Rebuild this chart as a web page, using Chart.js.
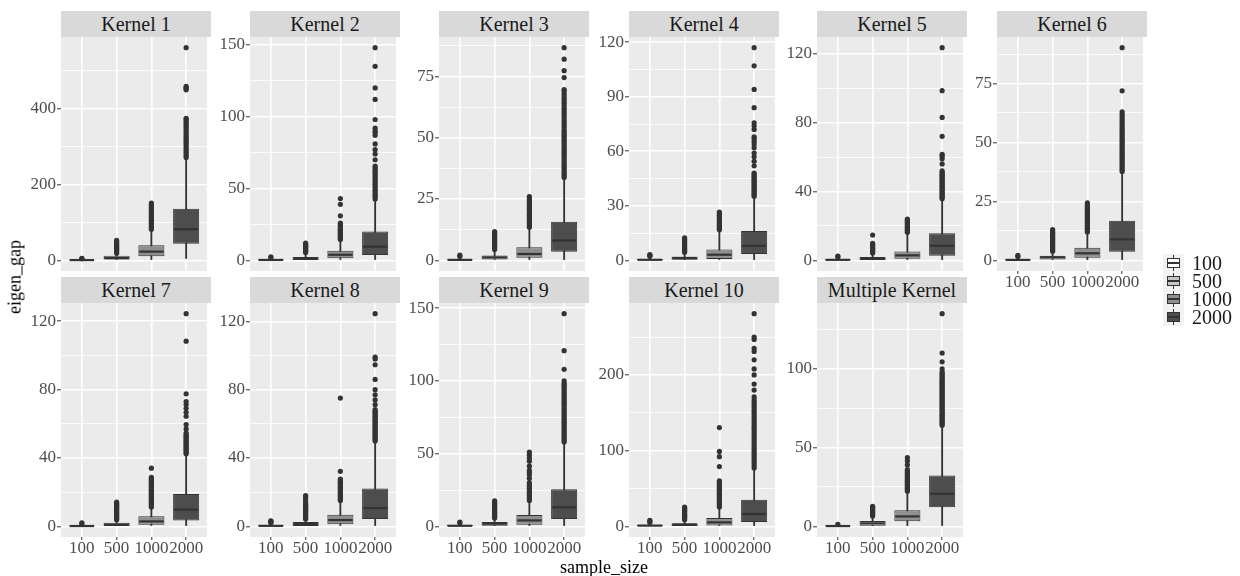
<!DOCTYPE html>
<html lang="en">
<head>
<meta charset="UTF-8">
<title>eigen_gap by sample_size</title>
<script src="https://cdn.jsdelivr.net/npm/chart.js"></script>
<style>
  body { margin: 0; background: #fff; font-family: "Liberation Serif", serif; }
  #wrap { position: relative; width: 1240px; height: 576px; overflow: hidden; }
  .panel { position: absolute; }
  .strip { position: absolute; width: 150px; height: 26px; line-height: 26px; background: #d9d9d9;
           color: #1a1a1a; font-size: 20px; text-align: center; }
  .axis-title { position: absolute; font-size: 18px; color: #000; white-space: nowrap; }
  .legend-bg { position: absolute; left: 1163px; top: 254px; width: 21px; height: 72px; background: #f2f2f2; }
  .key { position: absolute; width: 13px; height: 18px; }
  .key .wh { position: absolute; left: 6px; top: 1px; width: 1px; height: 16px; background: #333; }
  .key .bx { position: absolute; left: 0; top: 4px; width: 11px; height: 8px; border: 1px solid #333; }
  .key .md { position: absolute; left: 1px; top: 8px; width: 11px; height: 2px; background: #333; }
  .legend-label { position: absolute; left: 1192px; font-size: 20px; line-height: 18px; color: #1a1a1a; }
</style>
</head>
<body>
<div id="wrap"></div>

<script>
  const sampleSizes = ['100', '500', '1000', '2000'];
  const boxFills = ['#ffffff', '#c6c6c6', '#8f8f8f', '#4d4d4d'];
  const panelTitles = ['Kernel 1', 'Kernel 2', 'Kernel 3', 'Kernel 4', 'Kernel 5', 'Kernel 6',
                       'Kernel 7', 'Kernel 8', 'Kernel 9', 'Kernel 10', 'Multiple Kernel'];
  const yTickSteps = [200, 50, 25, 30, 40, 25, 40, 40, 50, 100, 50];

  // per sample size: [lower whisker, q1, median, q3, upper whisker]
  const k1Stats = [[0, 0.3, 0.8, 1.6, 3.5], [0, 2, 6, 12, 17], [0, 11, 23, 40, 79], [5, 44, 82, 136, 268]];
  const k1Outliers = [
    [4.5, 5.5],
    [19, 22, 25, 28, 31, 34, 37, 40, 43, 46, 49, 53],
    [82, 86, 90, 94, 98, 102, 106, 110, 114, 118, 122, 126, 130, 135, 140, 146, 151],
    [271, 276, 281, 286, 291, 296, 301, 306, 311, 316, 321, 326, 331, 336, 341, 346, 351, 356, 361, 366, 371, 374, 449, 452, 455, 458, 560]
  ];
  const k2Stats = [[0, 0.1, 0.3, 0.7, 1.6], [0, 0.3, 1, 2.3, 5], [0, 1.4, 3.9, 6.7, 14], [0, 3.7, 9.5, 20, 42]];
  const k2Outliers = [
    [2, 2.5],
    [5.5, 6.3, 7, 7.7, 8.4, 9.1, 9.8, 10.5, 11.2, 12],
    [14.5, 15.3, 16.1, 16.9, 17.7, 18.5, 19.3, 20.1, 20.9, 21.7, 22.5, 23.3, 24.1, 25, 26, 31, 39, 43],
    [42.7, 44, 45.3, 46.6, 48, 49.3, 50.6, 52, 53.3, 54.6, 56, 57.3, 58.6, 60, 61.3, 62.6, 64, 65.5, 70, 74, 77, 81, 87, 89, 90, 92, 98, 112, 120, 135, 148]
  ];
  const k3Stats = [[0, 0.05, 0.2, 0.5, 1.2], [0, 0.4, 1.2, 2, 4], [0, 1.1, 2.6, 5.3, 13], [0, 3.5, 8.1, 15.7, 33]];
  const k3Outliers = [
    [1.6, 2.1],
    [4.4, 5, 5.6, 6.2, 6.8, 7.4, 8, 8.6, 9.2, 9.8, 10.4, 11, 11.7],
    [13.5, 14.2, 14.9, 15.6, 16.3, 17, 17.7, 18.4, 19.1, 19.8, 20.5, 21.2, 21.9, 22.6, 23.3, 24, 24.7, 25.5, 26],
    [33.8, 34.6, 35.4, 36.2, 37, 37.8, 38.6, 39.4, 40.2, 41, 41.8, 42.6, 43.4, 44.2, 45, 45.8, 46.6, 47.4, 48.2, 49, 49.8, 50.6, 51.4, 52.2, 53, 54, 55, 56, 57, 58, 59, 60, 61, 62, 63, 64, 65, 66, 67, 68, 69, 69.6, 74.5, 77.3, 82, 86.7]
  ];
  const k4Stats = [[0, 0.1, 0.3, 0.8, 1.8], [0, 0.4, 1.3, 2, 4], [0, 0.8, 3.1, 6, 16], [0, 3.5, 8, 16.1, 34.5]];
  const k4Outliers = [
    [2.3, 2.8, 3.2],
    [4.5, 5.3, 6.1, 6.9, 7.7, 8.5, 9.3, 10.1, 10.9, 11.7, 12.4],
    [16.8, 17.6, 18.4, 19.2, 20, 20.8, 21.6, 22.4, 23.2, 24, 24.8, 25.6, 26.5],
    [35.3, 36.1, 36.9, 37.7, 38.5, 39.3, 40.1, 40.9, 41.7, 42.5, 43.3, 44.1, 44.9, 45.7, 46.5, 47.3, 48, 52, 54.5, 57, 59, 62, 64, 65.5, 67, 68, 72, 74, 75.7, 84, 94, 107, 117]
  ];
  const k5Stats = [[0, 0.1, 0.3, 0.7, 1.5], [0, 0.2, 1, 1.9, 3.8], [0, 1, 2.9, 5.2, 15.6], [0, 2.7, 8.5, 15.8, 35]];
  const k5Outliers = [
    [2, 2.5],
    [4.3, 5, 5.7, 6.4, 7.1, 7.8, 8.5, 9.2, 9.9, 14.7],
    [16.3, 17, 17.7, 18.4, 19.1, 19.8, 20.5, 21.2, 21.9, 22.6, 23.3, 24],
    [35.8, 36.6, 37.4, 38.2, 39, 39.8, 40.6, 41.4, 42.2, 43, 43.8, 44.6, 45.4, 46.2, 47, 47.8, 48.6, 49.4, 50.2, 51, 52, 56, 59, 60.5, 61.6, 72, 83, 98.5, 123.5]
  ];
  const k6Stats = [[0, 0.05, 0.2, 0.5, 1.2], [0, 0.4, 1.3, 2, 3.5], [0, 1.1, 3, 5.4, 11.4], [0, 3.7, 8.9, 16.8, 36.9]];
  const k6Outliers = [
    [1.6, 2.1],
    [3.9, 4.4, 4.9, 5.4, 5.9, 6.4, 6.9, 7.4, 7.9, 8.4, 8.9, 9.4, 9.9, 10.4, 10.9, 11.4, 11.9, 12.4, 13],
    [12, 12.6, 13.2, 13.8, 14.4, 15, 15.6, 16.2, 16.8, 17.4, 18, 18.6, 19.2, 19.8, 20.4, 21, 21.6, 22.2, 22.8, 23.5, 24.4],
    [37.7, 38.5, 39.3, 40.1, 40.9, 41.7, 42.5, 43.3, 44.1, 44.9, 45.7, 46.5, 47.3, 48.1, 48.9, 49.7, 50.5, 51.3, 52.1, 52.9, 53.7, 54.5, 55.3, 56.1, 57, 58, 59, 60, 61, 62, 63, 71.9, 90.2]
  ];
  const k7Stats = [[0, 0.05, 0.2, 0.5, 1.2], [0, 0.2, 1, 2.1, 3.5], [0, 1, 2.9, 5.9, 10.7], [0, 3.5, 9.8, 18.9, 41.6]];
  const k7Outliers = [
    [1.5, 2],
    [3.9, 4.5, 5.1, 5.7, 6.3, 6.9, 7.5, 8.1, 8.7, 9.3, 9.9, 10.5, 11.1, 11.7, 12.3, 12.9, 13.5, 14.2],
    [11.3, 11.9, 12.6, 13.3, 14, 14.7, 15.4, 16.1, 16.8, 17.5, 18.2, 18.9, 19.6, 20.3, 21, 21.7, 22.4, 23.1, 23.8, 24.5, 25.2, 25.9, 26.6, 27.3, 28, 28.7, 34],
    [42.4, 43.2, 44, 44.8, 45.6, 46.4, 47.2, 48, 48.8, 49.6, 50.4, 51.2, 52, 52.8, 53.6, 54.6, 57, 59.5, 64.4, 66.7, 69, 71.2, 73, 77.5, 108.3, 124.4]
  ];
  const k8Stats = [[0, 0.1, 0.3, 0.7, 1.6], [0, 0.2, 1.4, 2.5, 4], [0, 1.2, 3.7, 6.8, 14.5], [0, 4.3, 10.7, 22.2, 49.2]];
  const k8Outliers = [
    [2, 2.5, 3, 3.3],
    [4.3, 4.9, 5.5, 6.1, 6.7, 7.3, 7.9, 8.5, 9.1, 9.7, 10.3, 10.9, 11.5, 12.1, 12.7, 13.3, 14, 15.5, 17, 18],
    [15.2, 15.9, 16.6, 17.3, 18, 18.7, 19.4, 20.1, 20.8, 21.5, 22.2, 22.9, 23.6, 24.3, 25, 25.7, 26.4, 27.1, 27.7, 32.2, 75.1],
    [50, 50.8, 51.6, 52.4, 53.2, 54, 54.8, 55.6, 56.4, 57.2, 58, 58.8, 59.6, 60.4, 61.2, 62, 62.8, 63.6, 64.4, 65.2, 66, 66.8, 67.6, 68.3, 71.2, 74, 77, 80, 86, 94.6, 98, 99, 124.5]
  ];
  const k9Stats = [[0, 0.1, 0.4, 0.9, 2], [0, 0.5, 1.8, 3, 5.2], [0, 1.1, 4.1, 7.8, 17], [0, 5, 13.1, 25.5, 57]];
  const k9Outliers = [
    [2.5, 3],
    [5.7, 6.5, 7.3, 8.1, 8.9, 9.7, 10.5, 11.3, 12.1, 12.9, 13.7, 14.5, 15.3, 16.1, 16.9, 17.5],
    [17.8, 19, 20.2, 21.4, 22.6, 23.8, 25, 26.2, 27.4, 28.6, 30, 33, 35.5, 36.8, 38.5, 41.4, 44.8, 47, 49, 51],
    [58, 59.3, 60.6, 61.9, 63.2, 64.5, 65.8, 67.1, 68.4, 69.7, 71, 72.3, 73.6, 74.9, 76.2, 77.5, 78.8, 80.1, 81.4, 82.7, 84, 85.3, 86.6, 87.9, 89.2, 90.5, 91.8, 93.1, 94.4, 95.7, 97, 98.3, 100, 108, 120.8, 146.3]
  ];
  const k10Stats = [[0, 0.3, 1, 2, 4], [0, 0.4, 2.2, 4, 8], [0, 1.3, 5.3, 11, 24], [0, 5.7, 16.3, 35, 74.7]];
  const k10Outliers = [
    [5, 6.5, 8],
    [8.8, 10.3, 11.8, 13.3, 14.8, 16.3, 17.8, 19.3, 20.8, 22.3, 23.8, 25.5],
    [25.5, 27.5, 29.5, 31.5, 33.5, 35.5, 37.5, 39.5, 41.5, 43.5, 45.5, 47.5, 49.5, 51.5, 53.5, 55.5, 57.5, 60, 79, 92, 99, 130.5],
    [77, 80, 83, 86, 89, 92, 95, 98, 101, 104, 107, 110, 113, 116, 119, 122, 125, 128, 131, 134, 137, 140, 143, 146, 149, 152, 155, 158, 161, 164, 167, 171, 180, 188, 200, 208, 220, 231, 235, 247, 250, 281]
  ];
  const mkStats = [[0, 0.05, 0.2, 0.5, 1], [0, 0.4, 1.9, 3.4, 6], [0, 3.2, 6.3, 10.3, 21.5], [0, 12.2, 20.7, 32.3, 63.3]];
  const mkOutliers = [
    [1.3],
    [6.5, 7.2, 7.9, 8.6, 9.3, 10, 10.7, 11.4, 12, 12.7],
    [22.3, 23.2, 24.1, 25, 25.9, 26.8, 27.7, 28.6, 29.5, 30.4, 31.3, 32.2, 33.1, 34, 35, 36, 39, 41.5, 43.7],
    [64.2, 65.1, 66, 66.9, 67.8, 68.7, 69.6, 70.5, 71.4, 72.3, 73.2, 74.1, 75, 75.9, 76.8, 77.7, 78.6, 79.5, 80.4, 81.3, 82.2, 83.1, 84, 84.9, 85.8, 86.7, 87.6, 88.5, 89.4, 90.3, 91.2, 92.1, 93, 94, 95, 96, 97, 98, 100, 104.4, 110, 135]
  ];

  const panelStats = [k1Stats, k2Stats, k3Stats, k4Stats, k5Stats, k6Stats, k7Stats, k8Stats, k9Stats, k10Stats, mkStats];
  const panelOutliers = [k1Outliers, k2Outliers, k3Outliers, k4Outliers, k5Outliers, k6Outliers,
                         k7Outliers, k8Outliers, k9Outliers, k10Outliers, mkOutliers];

  // layout of the facet grid
  const plotLefts = [61, 250, 439, 629, 817, 997, 61, 250, 439, 629, 817];
  const rowTops = [37, 303];
  const PLOT_W = 150, PLOT_H = 234, Y_AXIS_W = 48, X_AXIS_H = 24, PAD_TOP = 12, PAD_BOTTOM = 4;
  const FONT = "'Liberation Serif', serif";
  const wrap = document.getElementById('wrap');

  const panelBg = {
    id: 'panelBg',
    beforeDraw(chart) {
      const { ctx, chartArea: a } = chart;
      ctx.save();
      ctx.fillStyle = '#ebebeb';
      ctx.fillRect(a.left, a.top, a.width, a.height);
      ctx.restore();
    }
  };

  function makePanel(i) {
    const stats = panelStats[i];
    const outs = panelOutliers[i];
    const row = i < 6 ? 0 : 1;
    const showX = i >= 5;
    const step = yTickSteps[i];

    const all = stats.flat().concat(outs.flat());
    const lo = Math.min(...all), hi = Math.max(...all);
    const pad = (hi - lo) * 0.05;

    // strip
    const strip = document.createElement('div');
    strip.className = 'strip';
    strip.style.left = plotLefts[i] + 'px';
    strip.style.top = (rowTops[row] - 26) + 'px';
    strip.textContent = panelTitles[i];
    wrap.appendChild(strip);

    const w = PLOT_W + Y_AXIS_W;
    const h = PAD_TOP + PLOT_H + (showX ? X_AXIS_H : 0) + PAD_BOTTOM;
    const box = document.createElement('div');
    box.className = 'panel';
    box.style.left = (plotLefts[i] - Y_AXIS_W) + 'px';
    box.style.top = (rowTops[row] - PAD_TOP) + 'px';
    const canvas = document.createElement('canvas');
    canvas.width = w;
    canvas.height = h;
    box.appendChild(canvas);
    wrap.appendChild(box);

    const whiskers = stats.map((s, k) => ({ x: k + 1, y: [s[0], s[4]] }));
    const boxes = stats.map((s, k) => ({ x: k + 1, y: [s[1], s[3]] }));
    const medians = stats.map((s, k) => ({ x: k + 1, y: s[2] }));
    const points = [];
    outs.forEach((arr, k) => arr.forEach(v => points.push({ x: k + 1, y: v })));

    const isMajor = v => Math.abs(v / step - Math.round(v / step)) < 1e-6;

    new Chart(canvas, {
      type: 'bar',
      data: {
        datasets: [
          { type: 'bar', data: whiskers, grouped: false, barThickness: 1.2,
            backgroundColor: '#333333', borderWidth: 0, order: 4 },
          { type: 'bar', data: boxes, grouped: false, categoryPercentage: 1, barPercentage: 0.75,
            backgroundColor: boxFills, borderColor: '#333333', borderWidth: 1, borderSkipped: false, order: 3 },
          { type: 'scatter', data: medians, pointStyle: 'line', pointBorderColor: '#333333', pointBorderWidth: 2.2,
            pointRadius: c => {
              const s = c.chart.scales.x;
              return s.getPixelForValue(1.375) - s.getPixelForValue(1) - 0.8;
            }, order: 2 },
          { type: 'scatter', data: points, pointRadius: 2.6, pointBackgroundColor: '#333333',
            pointBorderWidth: 0, order: 1 }
        ]
      },
      options: {
        responsive: false,
        animation: false,
        events: [],
        layout: { padding: { top: PAD_TOP, bottom: PAD_BOTTOM, left: 0, right: 0 } },
        plugins: { legend: { display: false }, tooltip: { enabled: false } },
        scales: {
          x: {
            type: 'linear', min: 0.4, max: 4.6, offset: false,
            grid: { offset: false, color: '#ffffff', lineWidth: 1.6, drawTicks: showX, tickLength: 3,
                    tickColor: '#333333', tickWidth: 1 },
            border: { display: false },
            ticks: {
              display: showX, stepSize: 1, includeBounds: false, autoSkip: false, maxRotation: 0,
              padding: 0, color: '#4d4d4d', font: { family: FONT, size: 17, lineHeight: 1 },
              callback: v => sampleSizes[v - 1]
            },
            afterFit: s => { s.height = showX ? X_AXIS_H : 0; s.paddingLeft = 0; s.paddingRight = 0; }
          },
          y: {
            min: lo - pad, max: hi + pad,
            grid: {
              color: '#ffffff',
              lineWidth: c => (c.tick && isMajor(c.tick.value)) ? 1.6 : 0.8,
              tickLength: 4,
              tickColor: c => (c.tick && isMajor(c.tick.value)) ? '#333333' : 'rgba(0,0,0,0)',
              tickWidth: 1
            },
            border: { display: false },
            ticks: {
              stepSize: step / 2, includeBounds: false, autoSkip: false, padding: 1,
              color: '#4d4d4d', font: { family: FONT, size: 17 },
              callback: v => isMajor(v) ? String(Math.round(v)) : ''
            },
            afterFit: s => { s.width = Y_AXIS_W; s.paddingTop = 0; s.paddingBottom = 0; }
          }
        }
      },
      plugins: [panelBg]
    });
  }

  for (let i = 0; i < panelTitles.length; i++) makePanel(i);

  // axis titles
  const yTitle = document.createElement('div');
  yTitle.className = 'axis-title';
  yTitle.textContent = 'eigen_gap';
  yTitle.style.left = '15px';
  yTitle.style.top = '277px';
  yTitle.style.transform = 'translate(-50%, -50%) rotate(-90deg)';
  wrap.appendChild(yTitle);

  const xTitle = document.createElement('div');
  xTitle.className = 'axis-title';
  xTitle.textContent = 'sample_size';
  xTitle.style.left = '604px';
  xTitle.style.top = '567px';
  xTitle.style.transform = 'translate(-50%, -50%)';
  wrap.appendChild(xTitle);

  // legend
  const legendBg = document.createElement('div');
  legendBg.className = 'legend-bg';
  wrap.appendChild(legendBg);
  const legendCenters = [263, 281, 299, 317];
  sampleSizes.forEach((label, k) => {
    const key = document.createElement('div');
    key.className = 'key';
    key.style.left = '1167px';
    key.style.top = (legendCenters[k] - 9) + 'px';
    key.innerHTML = '<div class="wh"></div><div class="bx" style="background:' + boxFills[k] + '"></div><div class="md"></div>';
    wrap.appendChild(key);
    const txt = document.createElement('div');
    txt.className = 'legend-label';
    txt.style.top = (legendCenters[k] - 9) + 'px';
    txt.textContent = label;
    wrap.appendChild(txt);
  });
</script>
</body>
</html>
